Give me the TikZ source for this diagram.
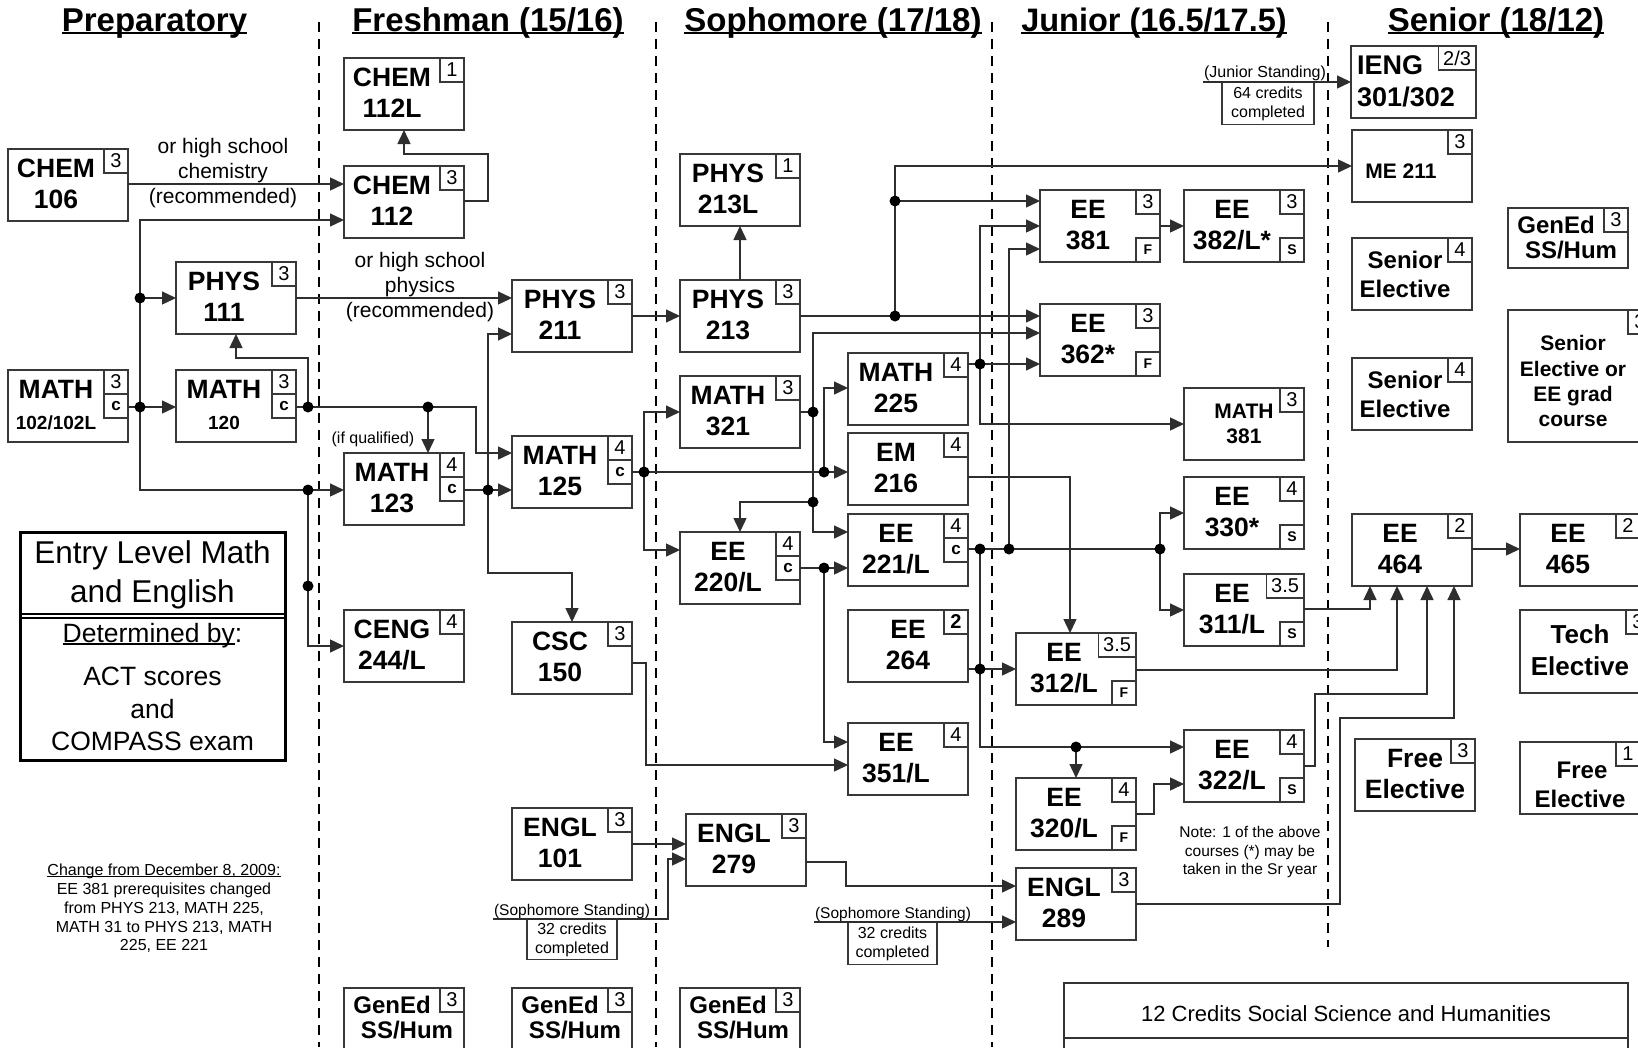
\documentclass[tikz,border=0pt]{standalone}
\usepackage{fontspec}
\setmainfont{Liberation Sans}
\usetikzlibrary{arrows.meta}
\newcommand\fsz[1]{\fontsize{#1}{#1}\selectfont}
\newsavebox\ulbox
\newcommand\myul[1]{\sbox\ulbox{#1}\rlap{\rule[-0.1em]{\wd\ulbox}{0.065em}}\usebox\ulbox}
\tikzset{
  crsbox/.style={draw=black!78, line width=1.4pt, inner sep=0pt, outer sep=0pt, rectangle},
  cred/.style={draw=black!78, line width=1.4pt, inner sep=0pt, inner xsep=5pt, outer sep=0pt, minimum width=24pt, minimum height=24pt, font=\fsz{20}},
  subbox/.style={cred, font=\bfseries\fsz{14}},
  cmark/.style={cred, font=\bfseries\fsz{17}},
  ctext/.style={anchor=base, inner sep=0pt, font=\bfseries\fsz{26.5}},
  wire/.style={draw=black!82, line width=1.4pt},
  arr/.style={-{Triangle[length=14pt,width=13pt]}},
  jdot/.style={circle, fill=black, inner sep=0pt, minimum size=11pt},
  yearsep/.style={draw=black, line width=2pt, dash pattern=on 10pt off 7pt},
  notebox/.style={draw=black!78, line width=1.2pt, anchor=north, inner sep=0pt, align=center, font=\fontsize{16}{19}\selectfont},
}
\newcommand\cbxN[6]{%
  \node[crsbox, anchor=north west, minimum width=#4pt-#2pt, minimum height=#5pt-#3pt] (#1) at (#2,#3) {};
  \node[cred, anchor=north east] (#1-cr) at (#1.north east) {#6};}
\newcommand\crsN[8]{%
  \cbxN{#1}{#2}{#3}{#4}{#5}{#6}%
  \node[ctext] (#1-a) at ({(#2+#4-24)/2},{#3+28.5}) {#7};
  \node[ctext] (#1-b) at ({(#2+#4-24)/2},{#3+59.5}) {#8};}
\newcommand\cmk[1]{\node[cmark, anchor=north east] (#1-c) at (#1-cr.south east) {c};}
\newcommand\fsb[2]{\node[subbox, anchor=south east] (#1-f) at (#1.south east) {#2};}
\newcommand\txtN[5]{\node[anchor=base, inner sep=0pt, font=#4] (#1) at (#2,#3) {#5};}
\begin{document}
\begin{tikzpicture}[x=1pt, y=-1pt]
\useasboundingbox (0,0) rectangle (1638,1047);
\clip (0,0) rectangle (1638,1047);
\fill[white] (0,0) rectangle (1638,1047);

% titles
\txtN{t1}{154.5}{31}{\bfseries\fsz{33}}{\myul{Preparatory}}
\txtN{t2}{488}{31}{\bfseries\fsz{33}}{\myul{Freshman (15/16)}}
\txtN{t3}{833}{31}{\bfseries\fsz{33}}{\myul{Sophomore (17/18)}}
\txtN{t4}{1154}{31}{\bfseries\fsz{32.5}}{\myul{Junior (16.5/17.5)}}
\txtN{t5}{1496}{31}{\bfseries\fsz{33}}{\myul{Senior (18/12)}}

% year separators
\draw[yearsep] (319,22) -- (319,1047);
\draw[yearsep] (656,22) -- (656,1047);
\draw[yearsep] (992,22) -- (992,1047);
\draw[yearsep] (1328,22) -- (1328,947);

% preparatory
\crsN{chem106}{8}{149}{128}{221}{3}{CHEM}{106}
\crsN{phys111}{176}{262}{296}{334}{3}{PHYS}{111}
\crsN{math102}{8}{370}{128}{442}{3}{MATH}{\fsz{19}102/102L}\cmk{math102}
\crsN{math120}{176}{370}{296}{442}{3}{MATH}{\fsz{19}120}\cmk{math120}

% freshman
\crsN{chem112L}{344}{58}{464}{130}{1}{CHEM}{112L}
\crsN{chem112}{344}{166}{464}{238}{3}{CHEM}{112}
\crsN{math123}{344}{453}{464}{525}{4}{MATH}{123}\cmk{math123}
\crsN{ceng244}{344}{610}{464}{682}{4}{CENG}{244/L}
\crsN{phys211}{512}{280}{632}{352}{3}{PHYS}{211}
\crsN{math125}{512}{436}{632}{508}{4}{MATH}{125}\cmk{math125}
\crsN{csc150}{512}{622}{632}{694}{3}{CSC}{150}
\crsN{engl101}{512}{808}{632}{880}{3}{ENGL}{101}

% sophomore
\crsN{phys213L}{680}{154}{800}{226}{1}{PHYS}{213L}
\crsN{phys213}{680}{280}{800}{352}{3}{PHYS}{213}
\crsN{math321}{680}{376}{800}{448}{3}{MATH}{321}
\crsN{ee220}{680}{532}{800}{604}{4}{EE}{220/L}\cmk{ee220}
\crsN{engl279}{686}{814}{806}{886}{3}{ENGL}{279}
\crsN{math225}{848}{353}{968}{425}{4}{MATH}{225}
\crsN{em216}{848}{433}{968}{505}{4}{EM}{216}
\crsN{ee221}{848}{514}{968}{586}{4}{EE}{221/L}\cmk{ee221}
\cbxN{ee264}{848}{610}{968}{682}{\bfseries 2}
\node[ctext] (ee264-a) at (908,638.5) {EE};
\node[ctext] (ee264-b) at (908,669.5) {264};
\crsN{ee351}{848}{723}{968}{795}{4}{EE}{351/L}

% junior
\crsN{ee381}{1040}{190}{1160}{262}{3}{EE}{381}\fsb{ee381}{F}
\crsN{ee362}{1040}{304}{1160}{376}{3}{EE}{362*}\fsb{ee362}{F}
\crsN{ee382}{1184}{190}{1304}{262}{3}{EE}{382/L*}\fsb{ee382}{S}
\cbxN{math381}{1184}{388}{1304}{460}{3}
\txtN{math381-a}{1244}{418}{\bfseries\fsz{21}}{MATH}
\txtN{math381-b}{1244}{443}{\bfseries\fsz{21}}{381}
\crsN{ee330}{1184}{477}{1304}{549}{4}{EE}{330*}\fsb{ee330}{S}
\crsN{ee311}{1184}{574}{1304}{646}{3.5}{EE}{311/L}\fsb{ee311}{S}
\crsN{ee312}{1016}{633}{1136}{705}{3.5}{EE}{312/L}\fsb{ee312}{F}
\crsN{ee322}{1184}{730}{1304}{802}{4}{EE}{322/L}\fsb{ee322}{S}
\crsN{ee320}{1016}{778}{1136}{850}{4}{EE}{320/L}\fsb{ee320}{F}
\crsN{engl289}{1016}{868}{1136}{940}{3}{ENGL}{289}

% senior
\cbxN{ieng}{1351}{46}{1476}{118}{2/3}
\node[anchor=base west, inner sep=0pt, font=\bfseries\fsz{27}] (ieng-a) at (1357,74) {IENG};
\node[anchor=base west, inner sep=0pt, font=\bfseries\fsz{27}] (ieng-b) at (1357,106) {301/302};
\cbxN{me211}{1352}{130}{1472}{202}{3}
\txtN{me211-a}{1401}{178}{\bfseries\fsz{21}}{ME 211}
\cbxN{senel1}{1352}{238}{1472}{310}{4}
\txtN{senel1-a}{1405}{268}{\bfseries\fsz{24}}{Senior}
\txtN{senel1-b}{1405}{297}{\bfseries\fsz{24}}{Elective}
\cbxN{senel2}{1352}{358}{1472}{430}{4}
\txtN{senel2-a}{1405}{388}{\bfseries\fsz{24}}{Senior}
\txtN{senel2-b}{1405}{417}{\bfseries\fsz{24}}{Elective}
\crsN{ee464}{1352}{514}{1472}{586}{2}{EE}{464}
\crsN{ee465}{1520}{514}{1640}{586}{2}{EE}{465}
\cbxN{free1}{1355}{739}{1475}{811}{3}
\txtN{free1-a}{1415}{767}{\bfseries\fsz{26.5}}{Free}
\txtN{free1-b}{1415}{798}{\bfseries\fsz{26.5}}{Elective}
\cbxN{gened4}{1508}{208}{1628}{268}{3}
\txtN{gened4-a}{1556}{233}{\bfseries\fsz{24}}{GenEd}
\txtN{gened4-b}{1571}{258}{\bfseries\fsz{24}}{SS/Hum}
\cbxN{segrad}{1508}{310}{1652}{442}{3}
\txtN{segrad-a}{1573}{350}{\bfseries\fsz{21}}{Senior}
\txtN{segrad-b}{1573}{376}{\bfseries\fsz{21}}{Elective or}
\txtN{segrad-c}{1573}{401}{\bfseries\fsz{21}}{EE grad}
\txtN{segrad-d}{1573}{426}{\bfseries\fsz{21}}{course}
\cbxN{tech}{1520}{610}{1650}{693}{3}
\txtN{tech-a}{1580}{643}{\bfseries\fsz{26}}{Tech}
\txtN{tech-b}{1580}{675}{\bfseries\fsz{26}}{Elective}
\cbxN{free2}{1520}{742}{1640}{814}{1}
\txtN{free2-a}{1582}{778}{\bfseries\fsz{24}}{Free}
\txtN{free2-b}{1580}{807}{\bfseries\fsz{24}}{Elective}

% gened bottom
\cbxN{gened1}{344}{988}{464}{1062}{3}
\txtN{gened1-a}{392}{1013}{\bfseries\fsz{24}}{GenEd}
\txtN{gened1-b}{407}{1038}{\bfseries\fsz{24}}{SS/Hum}
\cbxN{gened2}{512}{988}{632}{1062}{3}
\txtN{gened2-a}{560}{1013}{\bfseries\fsz{24}}{GenEd}
\txtN{gened2-b}{575}{1038}{\bfseries\fsz{24}}{SS/Hum}
\cbxN{gened3}{680}{988}{800}{1062}{3}
\txtN{gened3-a}{728}{1013}{\bfseries\fsz{24}}{GenEd}
\txtN{gened3-b}{743}{1038}{\bfseries\fsz{24}}{SS/Hum}

% entry level box
\node[draw=black, line width=3pt, anchor=north west, minimum width=265pt, minimum height=228pt, inner sep=0pt, outer sep=0pt] (entry) at (20,532) {};
\draw[line width=1.3pt] (entry.west |- 0,614) -- (entry.east |- 0,614);
\draw[line width=1.3pt] (entry.west |- 0,618) -- (entry.east |- 0,618);
\txtN{e1}{152.5}{563}{\fsz{31.5}}{Entry Level Math}
\txtN{e2}{152.5}{602}{\fsz{31.5}}{and English}
\txtN{e3}{152.5}{642}{\fsz{26.5}}{\myul{Determined by}:}
\txtN{e4}{152.5}{685}{\fsz{26.5}}{ACT scores}
\txtN{e5}{152.5}{718}{\fsz{26.5}}{and}
\txtN{e6}{152.5}{750}{\fsz{26.5}}{COMPASS exam}

% change note
\txtN{ch1}{164}{875}{\fsz{16}}{\myul{Change from December 8, 2009:}}
\txtN{ch2}{164}{894}{\fsz{16}}{EE 381 prerequisites changed}
\txtN{ch3}{164}{913}{\fsz{16}}{from PHYS 213, MATH 225,}
\txtN{ch4}{164}{932}{\fsz{16}}{MATH 31 to PHYS 213, MATH}
\txtN{ch5}{164}{950}{\fsz{16}}{225, EE 221}

% note
\txtN{n1}{1250}{837}{\fsz{15.5}}{Note: 1 of the above}
\txtN{n2}{1250}{856}{\fsz{15.5}}{courses (*) may be}
\txtN{n3}{1250}{874}{\fsz{15.5}}{taken in the Sr year}

% 12 credits box
\node[draw=black!80, line width=1.6pt, anchor=north west, minimum width=564pt, minimum height=90pt, inner sep=0pt, outer sep=0pt] (cred12) at (1064,983) {};
\draw[line width=1.6pt, black!80] (cred12.west |- 0,1038) -- (cred12.east |- 0,1038);
\txtN{cred12-t}{1346}{1021}{\fsz{22}}{12 Credits Social Science and Humanities}

% labels
\txtN{lc1}{223}{153}{\fsz{21}}{or high school}
\txtN{lc2}{223}{178.5}{\fsz{21}}{chemistry}
\txtN{lc3}{223}{203}{\fsz{21}}{(recommended)}
\txtN{lp1}{420}{267}{\fsz{21}}{or high school}
\txtN{lp2}{420}{292}{\fsz{21}}{physics}
\txtN{lp3}{420}{317}{\fsz{21}}{(recommended)}
\txtN{lq}{373}{443}{\fsz{16}}{(if qualified)}

% standing labels
\node[anchor=south, inner sep=0.5pt, font=\fsz{16}] (js) at (1265,82) {(Junior Standing)};
\node[notebox, minimum width=92pt, minimum height=42pt] (jsb) at (1268,82) {64 credits\\completed};
\node[anchor=south, inner sep=0.5pt, font=\fsz{15.5}] (ss1) at (572,919) {(Sophomore Standing)};
\node[notebox, minimum width=90pt, minimum height=40pt] (ss1b) at (572,919) {32 credits\\completed};
\node[anchor=south, inner sep=0.5pt, font=\fsz{15.5}] (ss2) at (893,922) {(Sophomore Standing)};
\node[notebox, minimum width=89pt, minimum height=42pt] (ss2b) at (892.5,922) {32 credits\\completed};

% junctions
\coordinate (dA) at (140,298);
\coordinate (dB) at (140,407);
\coordinate (dC) at (308,407);
\coordinate (dD) at (428,407);
\coordinate (dE) at (308,490);
\coordinate (dF) at (308,586);
\coordinate (dG) at (488,490);
\coordinate (dH) at (644,472);
\coordinate (dI) at (824,472);
\coordinate (dJ) at (813,412);
\coordinate (dK) at (813,502);
\coordinate (dL) at (824,568);
\coordinate (dM) at (895,316);
\coordinate (dN) at (895,201);
\coordinate (dO) at (980,364);
\coordinate (dP) at (980,549);
\coordinate (dQ) at (1009,549);
\coordinate (dR) at (1160,549);
\coordinate (dS) at (980,669);
\coordinate (dT) at (1076,747);

% connectors
\draw[wire,arr] (chem106.east |- 0,184) -- (chem112.west |- 0,184);
\draw[wire,arr] (dA) |- (chem112.west |- 0,220);
\draw[wire,arr] (dA) -- (phys111.west |- dA);
\draw[wire] (dA) -- (dB);
\draw[wire] (math102.east |- dB) -- (dB);
\draw[wire,arr] (dB) -- (math120.west |- dB);
\draw[wire,arr] (dB) |- (math123.west |- dE);
\draw[wire] (math120.east |- dC) -- (dC) -- (dD);
\draw[wire,arr] (dC) |- (236,358) -- (phys111.south -| 236,0);
\draw[wire,arr] (dD) -- (math123.north -| dD);
\draw[wire,arr] (dD) -| (476,453) -- (math125.west |- 0,453);
\draw[wire,arr] (dE) |- (ceng244.west |- 0,646);
\draw[wire,arr] (chem112.east |- 0,201) -- (488,201) |- (404,154) -- (chem112L.south -| 404,0);
\draw[wire,arr] (phys111.east |- 0,298) -- (phys211.west |- 0,298);
\draw[wire] (math123.east |- dG) -- (dG);
\draw[wire,arr] (dG) -- (math125.west |- dG);
\draw[wire,arr] (dG) |- (phys211.west |- 0,334);
\draw[wire,arr] (dG) |- (572,573) -- (csc150.north -| 572,0);
\draw[wire,arr] (phys211.east |- 0,316) -- (phys213.west |- 0,316);
\draw[wire,arr] (phys213.north) -- (phys213L.south);
\draw[wire] (math125.east |- dH) -- (dH);
\draw[wire,arr] (dH) -- (em216.west |- dH);
\draw[wire,arr] (dH) |- (math321.west |- 0,412);
\draw[wire,arr] (dH) |- (ee220.west |- 0,550);
\draw[wire,arr] (dI) |- (math225.west |- 0,388);
\draw[wire] (math321.east |- dJ) -- (dJ);
\draw[wire,arr] (dJ) |- (ee362.west |- 0,333);
\draw[wire,arr] (dJ) |- (ee221.west |- 0,532);
\draw[wire,arr] (dK) -| (ee220.north);
\draw[wire] (ee220.east |- dL) -- (dL);
\draw[wire,arr] (dL) -- (ee221.west |- dL);
\draw[wire,arr] (dL) |- (ee351.west |- 0,742);
\draw[wire,arr] (csc150.east |- 0,663) -| (646,765) -- (ee351.west |- 0,765);
\draw[wire] (phys213.east |- dM) -- (dM);
\draw[wire,arr] (dM) -- (ee362.west |- dM);
\draw[wire] (dM) -- (dN);
\draw[wire,arr] (dN) -- (ee381.west |- dN);
\draw[wire,arr] (dN) |- (me211.west |- 0,166);
\draw[wire] (math225.east |- dO) -- (dO);
\draw[wire,arr] (dO) -- (ee362.west |- dO);
\draw[wire,arr] (dO) |- (ee381.west |- 0,226);
\draw[wire,arr] (dO) |- (math381.west |- 0,424);
\draw[wire] (ee221.east |- dP) -- (dR);
\draw[wire,arr] (dQ) |- (ee381.west |- 0,249);
\draw[wire,arr] (dR) |- (ee330.west |- 0,513);
\draw[wire,arr] (dR) |- (ee311.west |- 0,610);
\draw[wire,arr] (dP) |- (ee322.west |- dT);
\draw[wire,arr] (dT) -- (ee320.north -| dT);
\draw[wire] (ee264.east |- dS) -- (dS);
\draw[wire,arr] (dS) -- (ee312.west |- dS);
\draw[wire,arr] (em216.east |- 0,477) -| (ee312.north -| 1070,0);
\draw[wire,arr] (ee381.east |- 0,226) -- (ee382.west |- 0,226);
\draw[wire,arr] (ee311.east |- 0,609) -| (ee464.south -| 1370,0);
\draw[wire,arr] (ee312.east |- 0,670) -| (ee464.south -| 1397,0);
\draw[wire,arr] (ee322.east |- 0,766) -| (1315,694) -| (ee464.south -| 1427,0);
\draw[wire,arr] (engl289.east |- 0,904) -| (1340,718) -| (ee464.south -| 1454,0);
\draw[wire,arr] (ee320.east |- 0,814) -| (1154,784) -- (ee322.west |- 0,784);
\draw[wire,arr] (ee464.east |- 0,549) -- (ee465.west |- 0,549);
\draw[wire,arr] (engl101.east |- 0,844) -- (engl279.west |- 0,844);
\draw[wire,arr] (ss1.south west) -| (668,859) -- (engl279.west |- 0,859);
\draw[wire,arr] (engl279.east |- 0,862) -| (846,886) -- (engl289.west |- 0,886);
\draw[wire,arr] (ss2.south west) -- (engl289.west |- ss2.south west);
\draw[wire,arr] (js.south west) -- (ieng.west |- js.south west);

% junction dots
\foreach \d in {dA,dB,dC,dD,dE,dF,dG,dH,dI,dJ,dK,dL,dM,dN,dO,dP,dQ,dR,dS,dT}
  \node[jdot] (\d-dot) at (\d) {};
\end{tikzpicture}
\end{document}
